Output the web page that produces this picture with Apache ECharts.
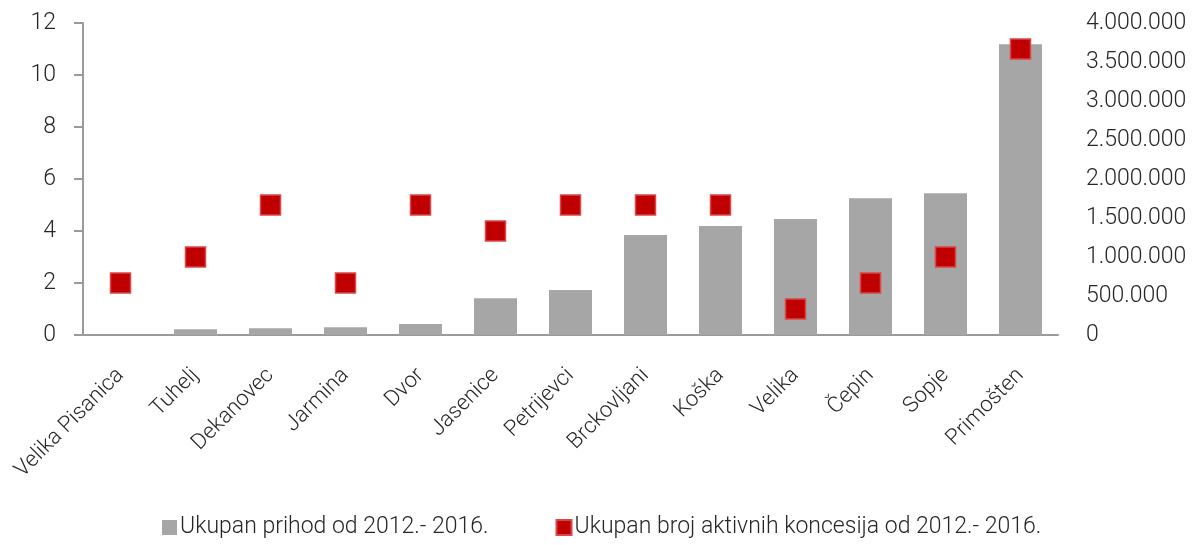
<!DOCTYPE html>
<html>
<head>
<meta charset="utf-8">
<script src="https://cdn.jsdelivr.net/npm/echarts@6/dist/echarts.min.js"></script>
<style>
  html, body { margin: 0; padding: 0; background: #fff; }
  #chart { width: 1195px; height: 545px; }
</style>
</head>
<body>
<div id="chart"></div>
<script>
const categories = ["Velika Pisanica", "Tuhelj", "Dekanovec", "Jarmina", "Dvor", "Jasenice", "Petrijevci",
  "Brckovljani", "Koška", "Velika", "Čepin", "Sopje", "Primošten"];
// revenue 2012-2016 (right axis)
const revenue = [0, 73000, 86000, 99000, 141000, 470000, 577000, 1282000, 1397000, 1487000, 1752000, 1816000, 3727000];
// number of active concessions (left axis)
const concessions = [2, 3, 5, 2, 5, 4, 5, 5, 5, 1, 2, 3, 11];

const font = "Roboto";
const textColor = "#262626";

function dots(v) {
  return String(v).replace(/\B(?=(\d{3})+(?!\d))/g, ".");
}

const chart = echarts.init(document.getElementById("chart"));
chart.setOption({
  animation: false,
  textStyle: { fontFamily: font, fontWeight: 300, color: textColor },
  grid: { left: 83, right: 137, top: 23, bottom: 210, containLabel: false },
  legend: {
    left: 162,
    top: 516,
    padding: 0,
    itemWidth: 15,
    itemHeight: 15,
    itemGap: 67,
    textStyle: { fontFamily: font, fontWeight: 300, fontSize: 23, color: textColor, padding: [0, 0, 0, -2] },
    data: [
      { name: "Ukupan prihod od 2012.- 2016.", icon: "rect" },
      { name: "Ukupan broj aktivnih koncesija od 2012.- 2016.", icon: "rect" }
    ]
  },
  xAxis: {
    type: "category",
    data: categories,
    axisLine: { lineStyle: { color: "#9a9a9a", width: 2 } },
    axisTick: { show: false },
    axisLabel: {
      rotate: 45,
      interval: 0,
      margin: 37,
      padding: [10, 0, 0, 0],
      fontSize: 22,
      fontFamily: font,
      fontWeight: 300,
      color: textColor
    }
  },
  yAxis: [
    {
      type: "value",
      min: 0,
      max: 12,
      interval: 2,
      position: "left",
      splitLine: { show: false },
      axisLine: { show: true, lineStyle: { color: "#9a9a9a", width: 2 } },
      axisTick: { show: true, inside: false, length: 9, lineStyle: { color: "#9a9a9a", width: 2 } },
      axisLabel: { margin: 27, fontSize: 23, fontFamily: font, fontWeight: 300, color: textColor }
    },
    {
      type: "value",
      min: 0,
      max: 4000000,
      interval: 500000,
      position: "right",
      splitLine: { show: false },
      axisLine: { show: false },
      axisTick: { show: false },
      axisLabel: {
        margin: 28,
        fontSize: 23,
        fontFamily: font,
        fontWeight: 300,
        color: textColor,
        formatter: dots
      }
    }
  ],
  series: [
    {
      name: "Ukupan prihod od 2012.- 2016.",
      type: "bar",
      yAxisIndex: 1,
      barWidth: 43,
      itemStyle: { color: "#a6a6a6" },
      data: revenue
    },
    {
      name: "Ukupan broj aktivnih koncesija od 2012.- 2016.",
      type: "scatter",
      yAxisIndex: 0,
      symbol: "rect",
      symbolSize: 20,
      itemStyle: { color: "#c00000", borderColor: "#d9474a", borderWidth: 1.5, opacity: 1 },
      z: 3,
      data: concessions
    }
  ]
});
</script>
</body>
</html>
